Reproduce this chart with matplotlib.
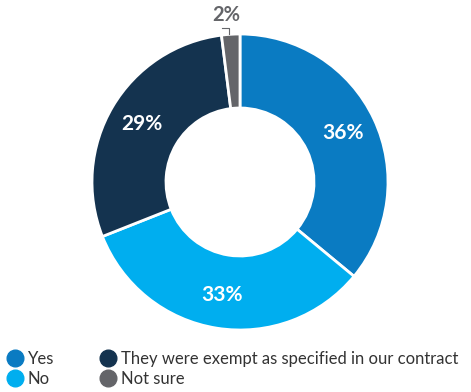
import matplotlib.pyplot as plt
from matplotlib.lines import Line2D
import numpy as np

labels = ["Yes", "No", "They were exempt as specified in our contract", "Not sure"]
values = [36, 33, 29, 2]
colors = ["#0a7bc2", "#00aeef", "#14334f", "#646569"]

plt.rcParams['font.family'] = ['Lato', 'DejaVu Sans']

fig = plt.figure(figsize=(4.71, 3.92), dpi=100)
ax = fig.add_axes([92 / 471, 62 / 392, 296 / 471, 296 / 392])

wedges, _ = ax.pie(values, colors=colors, startangle=90, counterclock=False,
                   radius=1, wedgeprops=dict(width=0.5, edgecolor='white', linewidth=2))

for w, v in zip(wedges, values):
    mid = np.deg2rad((w.theta1 + w.theta2) / 2)
    txt = f"{v}%"
    if v < 5:
        x = np.cos(mid)
        ax.plot([x - 0.01, x - 0.01, x - 0.06], [1.0, 1.04, 1.04], color='#646569', lw=0.8, clip_on=False)
        ax.text(x - 0.03, 1.13, txt, ha='center', va='center', color='#646569',
                fontsize=14.5, fontweight='bold')
    else:
        r = 0.77
        ax.text(r * np.cos(mid), r * np.sin(mid), txt, ha='center', va='center',
                color='white', fontsize=15, fontweight='bold')

ax.set_xlim(-1, 1)
ax.set_ylim(-1, 1)
ax.set_aspect('equal')
ax.axis('off')

handles = [Line2D([0], [0], marker='o', color='none', markerfacecolor=c, markeredgecolor=c,
                  markersize=12) for c in colors]
fig.legend(handles, labels, ncol=2, loc='lower left', bbox_to_anchor=(-0.022, -0.025),
           frameon=False, fontsize=12, handletextpad=0.2, columnspacing=2.6,
           labelspacing=0.25, handlelength=1.2, labelcolor='#333333')

fig.savefig('out.png', dpi=100)
